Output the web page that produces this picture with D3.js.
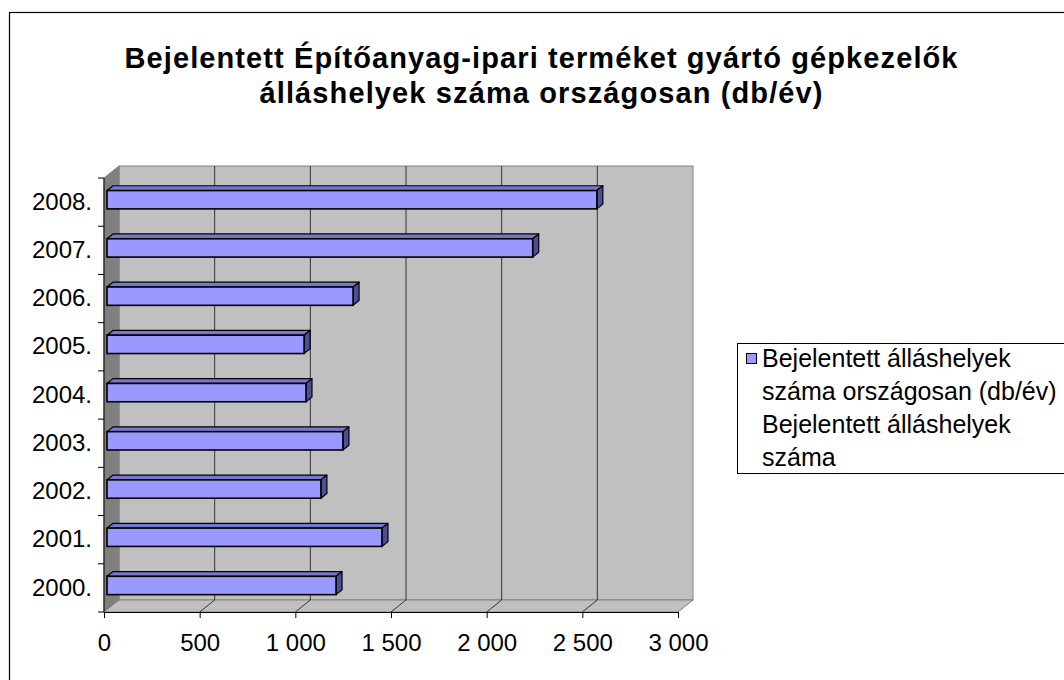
<!DOCTYPE html>
<html><head><meta charset="utf-8">
<script src="https://cdn.jsdelivr.net/npm/d3@7"></script>
<style>body{margin:0;background:#fff}svg{display:block}text{font-family:"Liberation Sans",Arial,sans-serif}</style>
</head><body><svg id="c" width="1064" height="680"></svg>
<script>
const categories = ["2000.","2001.","2002.","2003.","2004.","2005.","2006.","2007.","2008."];
const values = [1197, 1437, 1118, 1233, 1040, 1030, 1286, 2225, 2560];
const xTicks = [0,500,1000,1500,2000,2500,3000];
const titleLines = ["Bejelentett Építőanyag-ipari terméket gyártó gépkezelők","álláshelyek száma országosan (db/év)"];
const legendLines = ["Bejelentett álláshelyek","száma országosan (db/év)","Bejelentett álláshelyek","száma"];

const svg = d3.select("#c");
const DX = 15, DY = -12;           // depth offset of back wall
const x = d3.scaleLinear().domain([0,3000]).range([104,678]);
const y = d3.scaleBand().domain(categories.slice().reverse()).range([178,612]);
const loc = d3.formatLocale({decimal:",",thousands:" ",grouping:[3],currency:["",""]});
const fmt = loc.format(",d");

// outer border
svg.append("rect").attr("x",9.5).attr("y",12.5).attr("width",1100).attr("height",700)
  .attr("fill","#fff").attr("stroke","#000").attr("stroke-width",1.2);

// title
svg.selectAll("text.title").data(titleLines).join("text").attr("class","title")
  .attr("x",541).attr("y",(d,i)=>68+i*35).attr("text-anchor","middle")
  .attr("font-size",29).attr("font-weight","bold").attr("fill","#000")
  .attr("textLength",(d,i)=>i===0?833:563).attr("lengthAdjust","spacing")
  .text(d=>d);

const x0 = x(0), x1 = x(3000), yT = y.range()[0], yB = y.range()[1];
// back wall
svg.append("rect").attr("x",x0+DX).attr("y",yT+DY).attr("width",x1-x0).attr("height",yB-yT)
  .attr("fill","#c0c0c0").attr("stroke","#808080").attr("stroke-width",1);
// left wall
svg.append("path").attr("d",`M${x0},${yT}L${x0+DX},${yT+DY}L${x0+DX},${yB+DY}L${x0},${yB}Z`)
  .attr("fill","#808080").attr("stroke","#808080").attr("stroke-width",1);
// floor
svg.append("path").attr("d",`M${x0},${yB}L${x1},${yB}L${x1+DX},${yB+DY}L${x0+DX},${yB+DY}Z`)
  .attr("fill","#c0c0c0").attr("stroke","#808080").attr("stroke-width",1);

// gridlines on wall + floor
const grid = xTicks.filter(t=>t>0 && t<3000);
svg.selectAll("line.gv").data(grid).join("line").attr("class","gv")
  .attr("x1",d=>x(d)+DX).attr("x2",d=>x(d)+DX).attr("y1",yT+DY).attr("y2",yB+DY)
  .attr("stroke","#333").attr("stroke-width",1);
svg.selectAll("line.gf").data(grid).join("line").attr("class","gf")
  .attr("x1",d=>x(d)).attr("x2",d=>x(d)+DX).attr("y1",yB).attr("y2",yB+DY)
  .attr("stroke","#333").attr("stroke-width",1);

// bars
const f1 = 0.2, f2 = 0.6, bf = 0.38;
const bh = y.bandwidth()*bf;
const g = svg.append("g");
categories.forEach((c,i)=>{
  const v = values[i];
  const by = y(c) + (y.bandwidth()-bh)/2 + DY*f1;
  const bx0 = x(0) + DX*f1, bx1 = x(v) + DX*f1;
  const ddx = DX*(f2-f1), ddy = DY*(f2-f1);
  g.append("path").attr("d",`M${bx0},${by}L${bx0+ddx},${by+ddy}L${bx1+ddx},${by+ddy}L${bx1},${by}Z`)
    .attr("fill","#7777cc").attr("stroke","#000").attr("stroke-width",1.2).attr("stroke-linejoin","round");
  g.append("path").attr("d",`M${bx1},${by}L${bx1+ddx},${by+ddy}L${bx1+ddx},${by+ddy+bh}L${bx1},${by+bh}Z`)
    .attr("fill","#4f4f8f").attr("stroke","#000").attr("stroke-width",1.2).attr("stroke-linejoin","round");
  g.append("rect").attr("x",bx0).attr("y",by).attr("width",bx1-bx0).attr("height",bh)
    .attr("fill","#9999ff").attr("stroke","#000").attr("stroke-width",1.6);
});

// x axis
const xa = svg.append("g").attr("transform",`translate(0,${yB})`)
  .call(d3.axisBottom(x).tickValues(xTicks).tickFormat(fmt).tickSize(6).tickSizeOuter(0).tickPadding(16));
xa.select(".domain").attr("stroke","#000");
xa.selectAll(".tick line").attr("stroke","#000");
xa.selectAll("text").attr("font-size",24).attr("fill","#000").attr("font-family","Liberation Sans, Arial, sans-serif");

// y axis: line, boundary ticks, labels
svg.append("line").attr("x1",x0).attr("x2",x0).attr("y1",yT).attr("y2",yB).attr("stroke","#000");
const bounds = categories.map(c=>y(c)).concat([yB]);
svg.selectAll("line.yt").data(bounds).join("line").attr("class","yt")
  .attr("x1",x0-6).attr("x2",x0).attr("y1",d=>d).attr("y2",d=>d).attr("stroke","#000");
const ya = svg.append("g").attr("transform",`translate(${x0},0)`)
  .call(d3.axisLeft(y).tickSize(0).tickPadding(12));
ya.select(".domain").remove();
ya.selectAll("text").attr("font-size",24).attr("fill","#000").attr("font-family","Liberation Sans, Arial, sans-serif");

// legend
const lg = svg.append("g");
lg.append("rect").attr("x",737.5).attr("y",343.5).attr("width",400).attr("height",130)
  .attr("fill","#fff").attr("stroke","#000").attr("stroke-width",1);
lg.append("rect").attr("x",746.5).attr("y",353.5).attr("width",10).attr("height",10)
  .attr("fill","#9999ff").attr("stroke","#000").attr("stroke-width",1);
lg.selectAll("text").data(legendLines).join("text")
  .attr("x",762).attr("y",(d,i)=>367+i*33).attr("font-size",25).attr("fill","#000").text(d=>d);
</script></body></html>
